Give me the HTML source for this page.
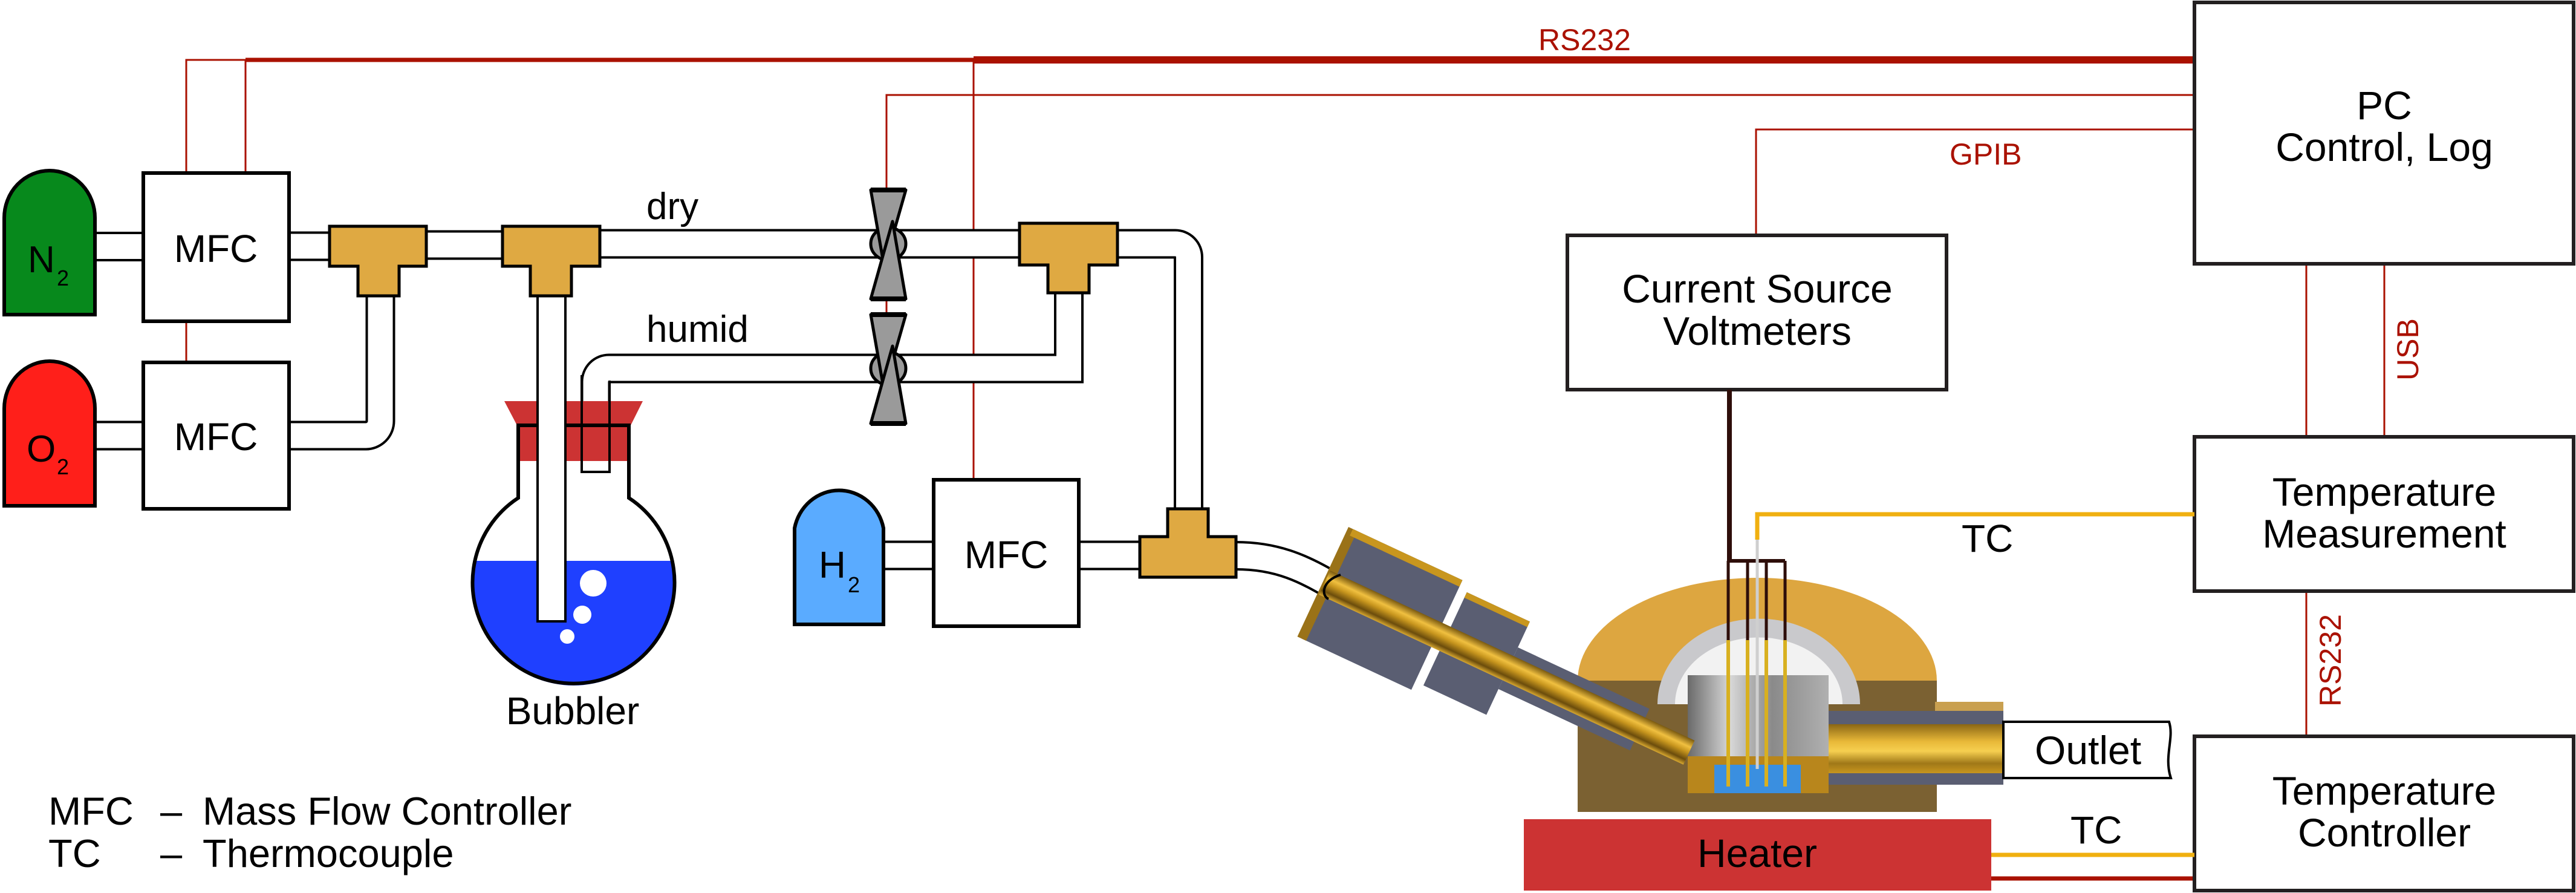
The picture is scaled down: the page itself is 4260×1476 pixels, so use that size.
<!DOCTYPE html>
<html><head><meta charset="utf-8"><style>
html,body{margin:0;padding:0;background:#fff;}
svg{display:block;}
text{font-family:"Liberation Sans",Arial,sans-serif;}
</style></head><body>
<svg width="4260" height="1476" viewBox="0 0 4260 1476" xmlns="http://www.w3.org/2000/svg">
<defs>
<linearGradient id="gtube" x1="0" y1="0" x2="0" y2="1">
<stop offset="0" stop-color="#7a5a10"/><stop offset="0.3" stop-color="#f0c040"/><stop offset="0.5" stop-color="#c8961e"/><stop offset="0.8" stop-color="#6b4c0c"/><stop offset="1" stop-color="#d8a830"/></linearGradient>
<linearGradient id="gout" x1="0" y1="0" x2="0" y2="1">
<stop offset="0" stop-color="#8a6614"/><stop offset="0.35" stop-color="#e8b838"/><stop offset="0.55" stop-color="#f6cf50"/><stop offset="0.8" stop-color="#a07818"/><stop offset="1" stop-color="#c8961e"/></linearGradient>
<linearGradient id="gcham" x1="0" y1="0" x2="1" y2="0">
<stop offset="0" stop-color="#6a6a6a"/><stop offset="0.3" stop-color="#d8d8d8"/><stop offset="0.6" stop-color="#8a8a8a"/><stop offset="1" stop-color="#b0b0b0"/></linearGradient>
<clipPath id="flask"><circle cx="948.5" cy="966" r="167"/></clipPath>
</defs>

<!-- red signal lines -->
<g stroke="#aa1100" fill="none">
<line x1="406" y1="99" x2="1610" y2="99" stroke-width="7"/>
<line x1="1610" y1="99" x2="3629" y2="99" stroke-width="12"/>
<polyline points="308,286 308,99 406,99" stroke-width="3"/>
<line x1="406" y1="99" x2="406" y2="286" stroke-width="3"/>
<line x1="308" y1="531" x2="308" y2="599" stroke-width="3"/>
<line x1="1610" y1="99" x2="1610" y2="793" stroke-width="3"/>
<polyline points="1466,312 1466,157 3629,157" stroke-width="3"/>
<line x1="1466" y1="496" x2="1466" y2="518" stroke-width="3"/>
<polyline points="2904,389 2904,214 3629,214" stroke-width="3"/>
<line x1="3814" y1="436" x2="3814" y2="722" stroke-width="3"/>
<line x1="3943" y1="436" x2="3943" y2="722" stroke-width="3"/>
<line x1="3814" y1="977" x2="3814" y2="1217" stroke-width="3"/>
<line x1="3293" y1="1452" x2="3629" y2="1452" stroke-width="7"/>
</g>
<g fill="#aa1100" font-size="50">
<text x="2544" y="83">RS232</text>
<text x="3224" y="272">GPIB</text>
<text transform="translate(3999,629) rotate(-90)">USB</text>
<text transform="translate(3871,1168) rotate(-90)">RS232</text>
</g>

<!-- pipes -->
<g fill="none" stroke-linejoin="round">
<g stroke="#000" stroke-width="49">
<line x1="159" y1="407.5" x2="237" y2="407.5"/>
<line x1="159" y1="720" x2="237" y2="720"/>
<line x1="478" y1="407" x2="545" y2="407"/>
<line x1="705" y1="405" x2="831" y2="405"/>
<line x1="992" y1="403" x2="1686" y2="403"/>
<path d="M1848,403 H1943.5 A22,22 0 0 1 1965.5,425 V841"/>
<path d="M629,489 V696 A24,24 0 0 1 605,720 H478"/>
<path d="M1767.5,484 V609 H1007 A22,22 0 0 0 985,631 V782" stroke-linejoin="miter"/>
<line x1="1464" y1="918" x2="1544" y2="918"/>
<line x1="1784" y1="918" x2="1885" y2="918"/>
</g>
<g stroke="#fff" stroke-width="41">
<line x1="150" y1="407.5" x2="246" y2="407.5"/>
<line x1="150" y1="720" x2="246" y2="720"/>
<line x1="470" y1="407" x2="553" y2="407"/>
<line x1="697" y1="405" x2="839" y2="405"/>
<line x1="984" y1="403" x2="1694" y2="403"/>
<path d="M1840,403 H1943.5 A22,22 0 0 1 1965.5,425 V849"/>
<path d="M629,480 V696 A24,24 0 0 1 605,720 H470"/>
<path d="M1767.5,476 V609 H1007 A22,22 0 0 0 985,631 V778" stroke-linejoin="miter"/>
<line x1="1456" y1="918" x2="1552" y2="918"/>
<line x1="1776" y1="918" x2="1893" y2="918"/>
</g>
<!-- curved pipe to fitting -->
<path d="M2044,896 C2110,896 2160,915 2217,950" stroke="#000" stroke-width="4"/>
<path d="M2044,941 C2110,941 2150,962 2197,990" stroke="#000" stroke-width="4"/>
</g>

<!-- tanks -->
<path d="M7,520 V360 A75,78 0 0 1 157,360 V520 Z" fill="#07891c" stroke="#000" stroke-width="6"/>
<path d="M7,836 V675 A75,78 0 0 1 157,675 V836 Z" fill="#ff1f1a" stroke="#000" stroke-width="6"/>
<path d="M1314,1032 V873 A75,78 0 0 1 1461,873 V1032 Z" fill="#5aabff" stroke="#000" stroke-width="6"/>
<g font-size="62" fill="#000">
<text x="46" y="450">N</text><text x="94" y="472" font-size="36">2</text>
<text x="44" y="763">O</text><text x="94" y="784" font-size="36">2</text>
<text x="1354" y="955">H</text><text x="1402" y="979" font-size="36">2</text>
</g>

<!-- MFC boxes -->
<g fill="#fff" stroke="#000" stroke-width="6">
<rect x="237" y="286" width="241" height="245"/>
<rect x="237" y="599" width="241" height="242"/>
<rect x="1544" y="793" width="240" height="242"/>
</g>
<g font-size="64" text-anchor="middle" fill="#000">
<text x="357" y="433">MFC</text>
<text x="357" y="744">MFC</text>
<text x="1664" y="939">MFC</text>
</g>

<!-- bubbler -->
<path d="M857,706 V823 A167,167 0 1 0 1040,823 V706 Z" fill="#fff"/>
<rect x="770" y="927" width="360" height="220" fill="#1f40ff" clip-path="url(#flask)"/>
<rect x="857" y="703" width="183" height="59" fill="#cc3333"/>
<polygon points="834,663 1063,663 1043,703 855,703" fill="#cc3333"/>
<path d="M857,703 V823 A167,167 0 1 0 1040,823 V703 Z" fill="none" stroke="#000" stroke-width="6"/>
<rect x="889" y="440" width="46" height="587" fill="#fff" stroke="#000" stroke-width="4"/>
<line x1="962" y1="620" x2="962" y2="780" stroke="#000" stroke-width="4"/>
<line x1="1008" y1="629" x2="1008" y2="780" stroke="#000" stroke-width="4"/>
<line x1="960" y1="780" x2="1010" y2="780" stroke="#000" stroke-width="4"/>
<circle cx="981" cy="964" r="22" fill="#fff"/>
<circle cx="963" cy="1016" r="15" fill="#fff"/>
<circle cx="938" cy="1052" r="12" fill="#fff"/>
<text x="947" y="1197" font-size="64" text-anchor="middle">Bubbler</text>

<!-- tees -->
<g fill="#dfa942" stroke="#000" stroke-width="5" stroke-linejoin="miter">
<path d="M545,374 H705 V440 H660 V489 H592 V440 H545 Z"/>
<path d="M831,374 H992 V440 H945 V489 H877 V440 H831 Z"/>
<path d="M1686,369 H1848 V438 H1801 V484 H1733 V438 H1686 Z"/>
<path d="M1885,954 H2044 V887 H1998 V841 H1931 V887 H1885 Z"/>
</g>

<!-- valves -->
<g stroke="#000" stroke-width="5" fill="#9a9a9a" stroke-linejoin="round">
<ellipse cx="1469" cy="403" rx="29" ry="27"/>
<polygon points="1440,314 1498,314 1462,440"/>
<polygon points="1440,494 1498,494 1476,366"/>
<ellipse cx="1469" cy="609" rx="29" ry="27"/>
<polygon points="1440,520 1498,520 1462,646"/>
<polygon points="1440,700 1498,700 1476,572"/>
</g>
<g stroke="#000" stroke-width="8">
<line x1="1440" y1="314" x2="1498" y2="314"/><line x1="1440" y1="494" x2="1498" y2="494"/>
<line x1="1440" y1="520" x2="1498" y2="520"/><line x1="1440" y1="700" x2="1498" y2="700"/>
</g>
<g font-size="62" fill="#000">
<text x="1069" y="362">dry</text>
<text x="1069" y="565">humid</text>
</g>

<!-- PC & boxes -->
<g fill="#fff" stroke="#231f20" stroke-width="6">
<rect x="3629" y="4" width="627" height="432"/>
<rect x="2592" y="389" width="627" height="255"/>
<rect x="3629" y="722" width="627" height="255"/>
<rect x="3629" y="1217" width="627" height="255"/>
</g>
<g font-size="66" text-anchor="middle" fill="#000">
<text x="3943" y="197">PC</text>
<text x="3943" y="266">Control, Log</text>
<text x="2906" y="500">Current Source</text>
<text x="2906" y="570">Voltmeters</text>
<text x="3943" y="836">Temperature</text>
<text x="3943" y="905">Measurement</text>
<text x="3943" y="1330">Temperature</text>
<text x="3943" y="1399">Controller</text>
</g>

<!-- TC lines -->
<polyline points="3629,850 2906,850 2906,892" fill="none" stroke="#f0b010" stroke-width="7"/>
<line x1="3293" y1="1413" x2="3629" y2="1413" stroke="#f0b010" stroke-width="7"/>
<g font-size="64" fill="#000">
<text x="3244" y="912">TC</text>
<text x="3424" y="1394">TC</text>
</g>

<!-- reactor -->
<path d="M2709,1125 A297,170 0 0 1 3303,1125 Z" fill="#dda640" transform="translate(-100,0)"/>
<rect x="2609" y="1125" width="594" height="217" fill="#7b6132"/>
<path d="M2741,1164 A167,141 0 0 1 3076,1164 Z" fill="#c9c9cc"/>
<path d="M2770,1164 A138,110 0 0 1 3047,1164 Z" fill="#f2f2f2"/>
<rect x="2791" y="1116" width="233" height="195" fill="url(#gcham)"/>
<path d="M2791,1250 H3024 V1311 H2791 Z" fill="#b8861c"/>
<rect x="2835" y="1264" width="143" height="47" fill="#3a8fe0"/>
<rect x="3200" y="1160" width="113" height="15" fill="#c9a050"/>
<rect x="3024" y="1175" width="289" height="122" fill="#5a5e72"/>
<rect x="3024" y="1197" width="289" height="81" fill="url(#gout)"/>

<!-- angled fitting -->
<g transform="translate(2195,965) rotate(25)">
<rect x="330" y="-38" width="240" height="76" fill="#5a5e72"/>
<rect x="0" y="-100" width="200" height="200" fill="#5a5e72"/>
<rect x="-8" y="-100" width="16" height="200" fill="#9a7218"/>
<rect x="0" y="-100" width="200" height="12" fill="#c8961e"/>
<rect x="215" y="-85" width="115" height="170" fill="#5a5e72"/>
<rect x="215" y="-85" width="115" height="10" fill="#c8961e"/>
<rect x="-5" y="-22" width="665" height="44" fill="url(#gtube)"/>
</g>
<path d="M2217,950 C2185,960 2185,985 2197,990" fill="none" stroke="#000" stroke-width="4"/>

<!-- probes -->
<line x1="2860" y1="644" x2="2860" y2="927" stroke="#2e0e0a" stroke-width="8"/>
<line x1="2858" y1="927" x2="2952" y2="927" stroke="#2e0e0a" stroke-width="6"/>
<line x1="2906" y1="892" x2="2906" y2="1271" stroke="#cfcfcf" stroke-width="5"/>
<g stroke="#2e0e0a" stroke-width="5">
<line x1="2858" y1="927" x2="2858" y2="1058"/><line x1="2890" y1="927" x2="2890" y2="1058"/>
<line x1="2921" y1="927" x2="2921" y2="1058"/><line x1="2952" y1="927" x2="2952" y2="1058"/>
</g>
<g stroke="#d8b020" stroke-width="6">
<line x1="2858" y1="1058" x2="2858" y2="1300"/><line x1="2890" y1="1058" x2="2890" y2="1300"/>
<line x1="2921" y1="1058" x2="2921" y2="1300"/><line x1="2952" y1="1058" x2="2952" y2="1300"/>
</g>

<!-- outlet -->
<path d="M3313,1193 H3587 C3596,1220 3578,1250 3590,1286 H3313 Z" fill="#fff" stroke="#000" stroke-width="4"/>
<text x="3365" y="1263" font-size="66">Outlet</text>

<!-- heater -->
<rect x="2520" y="1354" width="773" height="118" fill="#cc3333"/>
<text x="2906" y="1433" font-size="66" text-anchor="middle">Heater</text>

<!-- legend -->
<g font-size="65" fill="#000">
<text x="80" y="1363">MFC</text><text x="265" y="1363">–</text><text x="335" y="1363">Mass Flow Controller</text>
<text x="80" y="1433">TC</text><text x="265" y="1433">–</text><text x="335" y="1433">Thermocouple</text>
</g>
</svg>
</body></html>
